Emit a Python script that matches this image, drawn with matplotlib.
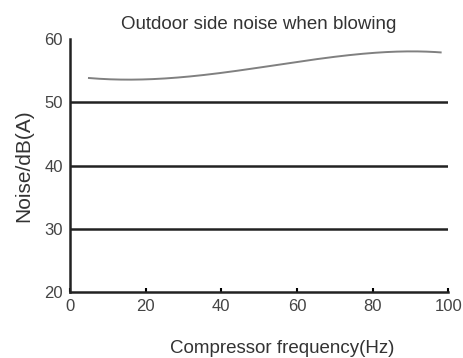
import numpy as np
import matplotlib.pyplot as plt

# 読み取った値
freq = [5, 10, 15, 20, 30, 40, 50, 60, 70, 80, 88, 98]
noise = [53.8, 53.7, 53.6, 53.6, 54.0, 54.6, 55.5, 56.4, 57.2, 57.8, 58.0, 57.9]
xticks = [0, 20, 40, 60, 80, 100]
yticks = [20, 30, 40, 50, 60]
gridlines = [30, 40, 50]

plt.rcParams['font.family'] = ['Liberation Sans', 'DejaVu Sans']

fig = plt.figure(figsize=(4.64, 3.58), dpi=100)
ax = fig.add_axes([0.151, 0.184, 0.815, 0.707])

# 滑らかな曲線にする
xs = np.linspace(freq[0], freq[-1], 200)
coef = np.polyfit(freq, noise, 4)
ax.plot(xs, np.polyval(coef, xs), color='#808080', lw=1.4)

for g in gridlines:
    ax.axhline(g, color='#222222', lw=1.8, zorder=0)

ax.set_xlim(0, 100)
ax.set_ylim(20, 60)
ax.set_xticks(xticks)
ax.set_yticks(yticks)
for s in ['top', 'right']:
    ax.spines[s].set_visible(False)
for s in ['left', 'bottom']:
    ax.spines[s].set_linewidth(1.8)
    ax.spines[s].set_color('#222222')
ax.tick_params(axis='x', direction='in', length=3, width=1.5, labelsize=12,
               labelcolor='#444444', pad=5)
ax.tick_params(axis='y', length=0, labelsize=12, labelcolor='#444444', pad=5)

ax.set_title('Outdoor side noise when blowing', fontsize=13.5, color='#333333', pad=7)
ax.set_xlabel('Compressor frequency(Hz)', fontsize=13.5, color='#333333')
ax.xaxis.set_label_coords(0.56, -0.19)
ax.set_ylabel('Noise/dB(A)', fontsize=15, color='#333333', labelpad=8)

fig.savefig('out.png', dpi=100)
